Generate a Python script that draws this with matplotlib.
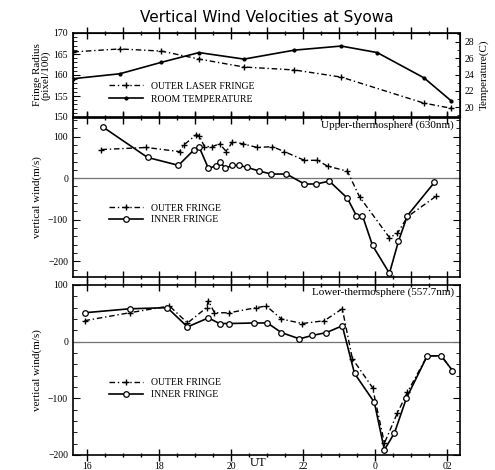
import matplotlib
matplotlib.use("Agg")
import matplotlib.pyplot as plt
import numpy as np
from matplotlib.ticker import MultipleLocator, FixedLocator

plt.rcParams['font.family'] = ['Liberation Serif', 'DejaVu Serif']

# UT in hours, past midnight kept as 24+
fringe_ut = [15.61, 16.9, 18.05, 19.1, 20.35, 21.75, 23.05, 25.35, 26.1]
fringe_r = [165.5, 166.2, 165.7, 163.8, 161.9, 161.2, 159.5, 153.3, 152.1]
temp_ut = [15.61, 16.9, 18.05, 19.1, 20.35, 21.75, 23.05, 24.05, 25.35, 26.1]
temp_c = [23.5, 24.1, 25.5, 26.7, 25.9, 27.0, 27.5, 26.7, 23.6, 20.8]

# 630nm
up_outer_ut = [16.39, 17.64, 18.56, 18.69, 19.03, 19.11, 19.25, 19.47, 19.67, 19.86,
               20.03, 20.31, 20.72, 21.14, 21.47, 22.03, 22.39, 22.67, 23.22, 23.56,
               24.39, 24.61, 24.89, 25.69]
up_outer = [69, 74, 64, 81, 105, 102, 76, 76, 83, 64,
            88, 83, 74, 76, 64, 43, 43, 29, 17, -45,
            -143, -133, -93, -43]
up_inner_ut = [16.42, 17.67, 18.53, 18.97, 19.11, 19.36, 19.56, 19.67, 19.83, 20.03,
               20.22, 20.44, 20.78, 21.11, 21.53, 22.03, 22.36, 22.72, 23.22, 23.47,
               23.64, 23.92, 24.39, 24.64, 24.89, 25.64]
up_inner = [124, 50, 31, 69, 74, 24, 29, 40, 24, 31,
            31, 26, 17, 10, 10, -14, -14, -7, -48, -90,
            -90, -162, -229, -152, -90, -10]

# 557.7nm
lo_outer_ut = [15.92, 17.17, 18.28, 18.78, 19.31, 19.36, 19.53, 19.94, 20.69, 20.97,
               21.39, 21.97, 22.58, 23.08, 23.36, 23.92, 24.25, 24.61, 24.89, 25.44,
               25.83, 26.14]
lo_outer = [37, 51, 63, 33, 60, 72, 51, 51, 60, 63,
            40, 32, 37, 58, -30, -81, -179, -126, -89, -25,
            -25, -51]
lo_inner_ut = [15.92, 17.17, 18.22, 18.78, 19.36, 19.67, 19.94, 20.64, 21.0, 21.39,
               21.89, 22.25, 22.64, 23.08, 23.42, 23.97, 24.25, 24.53, 24.86, 25.44,
               25.83, 26.14]
lo_inner = [51, 58, 60, 26, 42, 32, 32, 33, 33, 16,
            5, 11, 16, 28, -56, -107, -191, -161, -100, -25,
            -25, -51]

hour_ticks = [16, 18, 20, 22, 24, 26]
hour_labels = ['16', '18', '20', '22', '0', '02']

W, H = 495, 470
fig = plt.figure(figsize=(W / 100, H / 100), dpi=100)


def box(l, t, r, b):
    return [l / W, 1 - b / H, (r - l) / W, (b - t) / H]


ax0 = fig.add_axes(box(73, 33, 460, 117))
ax1 = fig.add_axes(box(73, 118, 460, 277))
ax2 = fig.add_axes(box(73, 285, 460, 455))

for ax in (ax0, ax1, ax2):
    ax.set_xlim(15.6, 26.35)
    ax.xaxis.set_major_locator(MultipleLocator(1))
    ax.xaxis.set_minor_locator(MultipleLocator(0.5))
    ax.tick_params(axis='x', which='major', direction='inout', length=8, width=1.0,
                   top=True, bottom=True)
    ax.tick_params(axis='x', which='minor', direction='inout', length=3, width=1.0,
                   top=True, bottom=True)
    ax.tick_params(axis='y', which='both', direction='in', right=True, labelsize=7)
    ax.tick_params(axis='y', which='major', length=5)
    ax.tick_params(axis='y', which='minor', length=3)
    ax.set_xticklabels([])
    for s in ax.spines.values():
        s.set_linewidth(1.2)

# fringe radius / room temperature
ax0.plot(fringe_ut, fringe_r, color='black', ls=(0, (4, 2, 1, 2)), lw=1.0,
         marker='+', ms=4, label='OUTER LASER FRINGE')
ax0.set_ylim(150, 170)
ax0.yaxis.set_major_locator(MultipleLocator(5))
ax0.yaxis.set_minor_locator(MultipleLocator(1))
ax0.tick_params(axis='y', right=False)
ax0.set_ylabel('Fringe Radius\n(pixel/100)', fontsize=8, labelpad=2, linespacing=0.9)
ax0t = ax0.twinx()
ax0t.plot(temp_ut, temp_c, color='black', lw=1.2, marker='.', ms=4,
          label='ROOM TEMPERATURE')
ax0t.set_ylim(18.8, 29.1)
ax0t.yaxis.set_major_locator(FixedLocator([20, 22, 24, 26, 28]))
ax0t.yaxis.set_minor_locator(MultipleLocator(1))
ax0t.tick_params(axis='y', which='both', direction='in', labelsize=7)
ax0t.set_ylabel('Temperature(C)', fontsize=8, labelpad=3)
h0, l0 = ax0.get_legend_handles_labels()
h1, l1 = ax0t.get_legend_handles_labels()
ax0.legend(h0 + h1, l0 + l1, loc='lower left', bbox_to_anchor=(0.08, 0.1),
           frameon=False, fontsize=7, handlelength=3.5, borderpad=0, labelspacing=0.4)
ax0.set_title('Vertical Wind Velocities at Syowa', fontsize=11, pad=8,
              family=['DejaVu Sans'])

# vertical wind panels
panels = [
    (ax1, up_outer_ut, up_outer, up_inner_ut, up_inner, (-238, 145),
     'Upper-thermosphere (630nm)', 'vertical wind(m/s)'),
    (ax2, lo_outer_ut, lo_outer, lo_inner_ut, lo_inner, (-200, 100),
     'Lower-thermosphere (557.7nm)', 'vertical wind(m/s)'),
]
for ax, out_t, out_v, in_t, in_v, ylim, name, ylab in panels:
    ax.axhline(0, color='0.45', lw=0.9)
    ax.plot(out_t, out_v, color='black', ls=(0, (4, 2, 1, 2)), lw=1.0,
            marker='+', ms=4, label='OUTER FRINGE')
    ax.plot(in_t, in_v, color='black', lw=1.2, marker='o', ms=4,
            mfc='white', mew=0.9, label='INNER FRINGE')
    ax.set_ylim(*ylim)
    ax.yaxis.set_major_locator(FixedLocator([-200, -100, 0, 100]))
    ax.yaxis.set_minor_locator(MultipleLocator(20))
    ax.set_ylabel(ylab, fontsize=8, labelpad=4)
    ax.text(0.985, 0.985, name, transform=ax.transAxes, ha='right', va='top',
            fontsize=8)
    ax.legend(loc='lower left', bbox_to_anchor=(0.08, 0.3), frameon=False,
              fontsize=7, handlelength=3.5, borderpad=0, labelspacing=0.3)

ax2.set_xticks(hour_ticks)
ax2.set_xticklabels(hour_labels, fontsize=7)
ax2.tick_params(axis='x', which='major', pad=1)
fig.text(258 / W, 1 - 463 / H, 'UT', fontsize=9, ha='center', va='center')

fig.savefig('out.png', dpi=100)
